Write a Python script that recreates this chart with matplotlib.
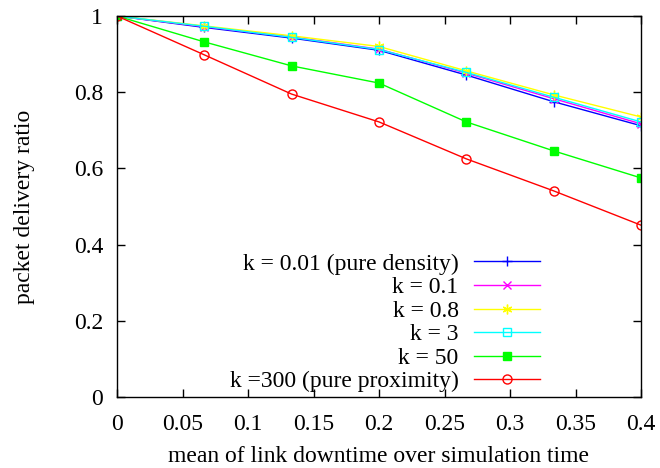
import numpy as np
import matplotlib.pyplot as plt
from matplotlib.ticker import FuncFormatter

plt.rcParams['font.family'] = ['Liberation Serif', 'DejaVu Serif']

# mean link downtime / simulation time
downtime = [0, 1/15, 2/15, 3/15, 4/15, 5/15, 6/15]
pdr_k001 = [1.0, 0.970, 0.942, 0.910, 0.845, 0.775, 0.712]
pdr_k01 = [1.0, 0.972, 0.945, 0.913, 0.850, 0.783, 0.717]
pdr_k08 = [1.0, 0.974, 0.948, 0.920, 0.856, 0.793, 0.735]
pdr_k3 = [1.0, 0.973, 0.944, 0.912, 0.852, 0.787, 0.722]
pdr_k50 = [1.0, 0.932, 0.869, 0.824, 0.722, 0.646, 0.575]
pdr_k300 = [1.0, 0.898, 0.795, 0.722, 0.625, 0.541, 0.451]

labels = ['k = 0.01 (pure density)', 'k = 0.1', 'k = 0.8', 'k = 3', 'k = 50', 'k =300 (pure proximity)']
series = [pdr_k001, pdr_k01, pdr_k08, pdr_k3, pdr_k50, pdr_k300]
colors = ['#0000ff', '#ff00ff', '#ffff00', '#00ffff', '#00ff00', '#ff0000']
markers = ['+', 'x', (6, 2, 0), 's', 's', 'o']
msize = [7, 6, 7, 6, 6, 6.5]
mfc = ['none', 'none', 'none', 'none', '#00ff00', 'none']

fig = plt.figure(figsize=(6.6, 4.68), dpi=100)
ax = fig.add_axes([117/660, 1-397/468, (641-117)/660, (397-16)/468])

for y, lab, c, m, ms, fc in zip(series, labels, colors, markers, msize, mfc):
    ax.plot(downtime, y, color=c, marker=m, markersize=ms, markerfacecolor=fc,
            markeredgecolor=c, markeredgewidth=1.0, linewidth=1.0, label=lab)

ax.set_xlim(0, 0.4)
ax.set_ylim(0, 1)
ax.set_xticks(np.arange(0, 0.401, 0.05))
ax.set_yticks(np.arange(0, 1.01, 0.2))
fmt = FuncFormatter(lambda v, p: ('%.2f' % v).rstrip('0').rstrip('.') if v != 0 else '0')
ax.xaxis.set_major_formatter(fmt)
ax.yaxis.set_major_formatter(fmt)
ax.tick_params(direction='in', length=6, width=1, top=True, right=True, labelsize=17)
ax.tick_params(axis='x', pad=12)
ax.tick_params(axis='y', pad=10)
for s in ax.spines.values():
    s.set_linewidth(1.0)

ax.set_xlabel('mean of link downtime over simulation time', fontsize=17, labelpad=8)
ax.set_ylabel('packet delivery ratio', fontsize=17, labelpad=28)

ax.legend(loc='lower right', bbox_to_anchor=(423/524, 0.012), markerfirst=False, frameon=False,
          fontsize=17, handlelength=2.8, labelspacing=0.085, handletextpad=0.65, borderpad=0.0,
          borderaxespad=0.0)

fig.savefig('out.png', dpi=100)
